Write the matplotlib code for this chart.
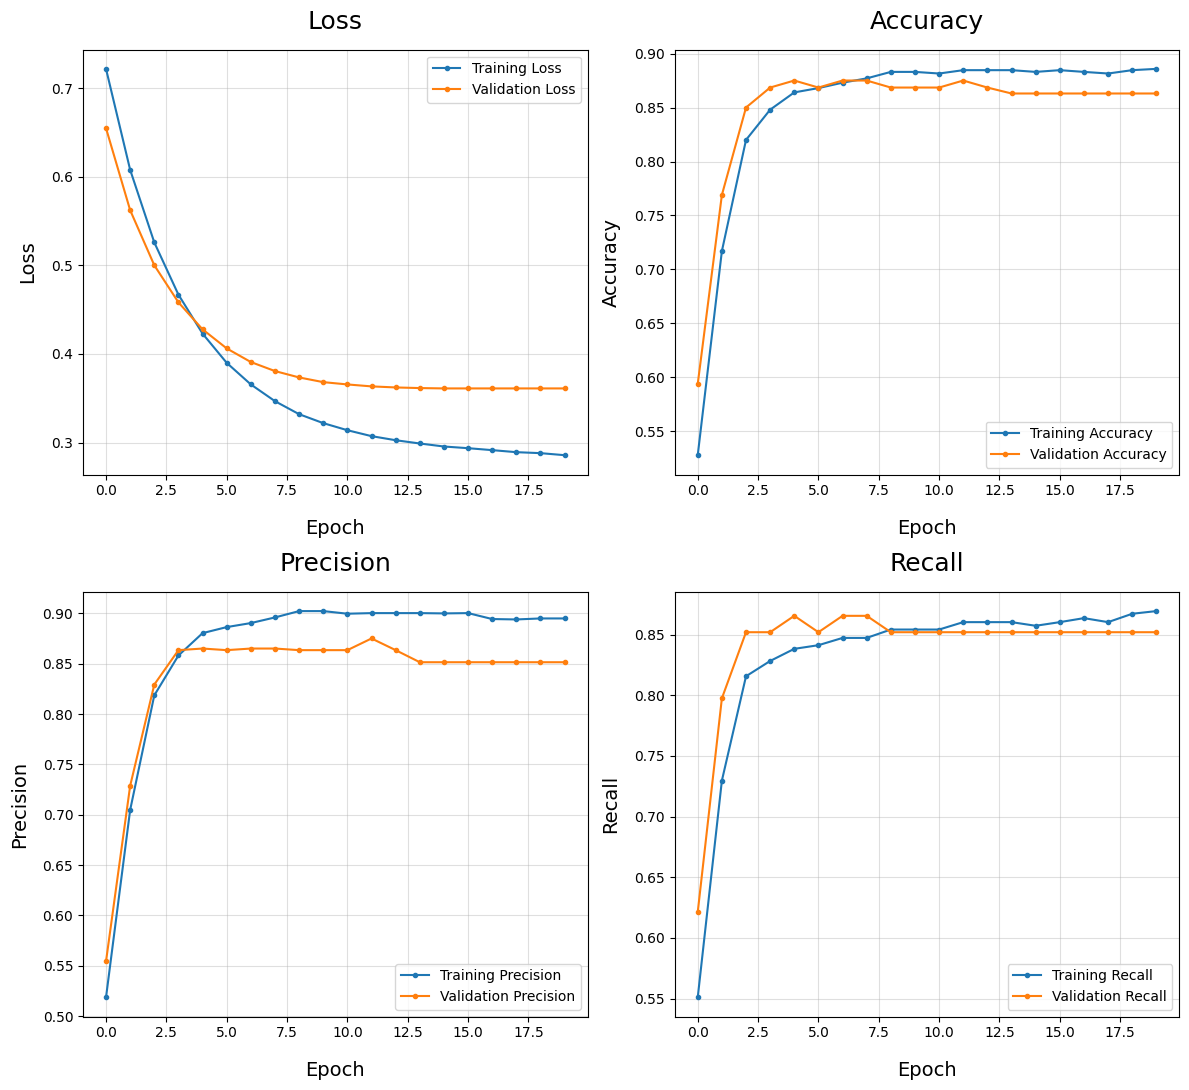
import matplotlib
matplotlib.use("Agg")
import matplotlib.pyplot as plt

epochs = list(range(20))

train_loss = [0.722, 0.608, 0.526, 0.467, 0.423, 0.390, 0.3656, 0.3467, 0.332, 0.3219,
              0.3139, 0.3072, 0.3026, 0.2989, 0.2955, 0.2936, 0.2914, 0.2891, 0.288, 0.2857]
val_loss = [0.655, 0.5624, 0.5002, 0.4583, 0.4278, 0.4063, 0.3909, 0.3807, 0.3735, 0.3682,
            0.3656, 0.3634, 0.3622, 0.3615, 0.3611, 0.3611, 0.3611, 0.3611, 0.3611, 0.3611]

train_acc = [0.528, 0.717, 0.820, 0.848, 0.864, 0.868, 0.873, 0.877, 0.883, 0.883,
             0.8815, 0.8846, 0.8846, 0.8846, 0.883, 0.8846, 0.883, 0.8815, 0.8846, 0.8858]
val_acc = [0.594, 0.769, 0.850, 0.8685, 0.875, 0.8685, 0.875, 0.875, 0.8685, 0.8685,
           0.8685, 0.875, 0.8685, 0.863, 0.863, 0.863, 0.863, 0.863, 0.863, 0.863]

train_prec = [0.5185, 0.7047, 0.8186, 0.8582, 0.8804, 0.8864, 0.8904, 0.896, 0.9023, 0.9023,
              0.8997, 0.9003, 0.9003, 0.9003, 0.9000, 0.9003, 0.8944, 0.894, 0.895, 0.895]
val_prec = [0.5543, 0.7287, 0.8293, 0.8635, 0.8651, 0.8635, 0.8651, 0.8651, 0.8635, 0.8635,
            0.8635, 0.8751, 0.8635, 0.8515, 0.8515, 0.8515, 0.8515, 0.8515, 0.8515, 0.8515]

train_rec = [0.551, 0.7296, 0.8156, 0.8282, 0.8382, 0.8412, 0.8472, 0.8472, 0.8541, 0.8541,
             0.8541, 0.8602, 0.8602, 0.8602, 0.8572, 0.8602, 0.8635, 0.8602, 0.8671, 0.8693]
val_rec = [0.6213, 0.7974, 0.8519, 0.8519, 0.8654, 0.8519, 0.8654, 0.8654, 0.8519, 0.8519,
           0.8519, 0.8519, 0.8519, 0.8519, 0.8519, 0.8519, 0.8519, 0.8519, 0.8519, 0.8519]

panels = [
    ("Loss", train_loss, val_loss, "upper right"),
    ("Accuracy", train_acc, val_acc, "lower right"),
    ("Precision", train_prec, val_prec, "lower right"),
    ("Recall", train_rec, val_rec, "lower right"),
]

fig, axes = plt.subplots(2, 2, figsize=(11.89, 10.9), dpi=100)
for ax, (name, tr, va, loc) in zip(axes.flat, panels):
    ax.plot(epochs, tr, marker="o", markersize=3, label=f"Training {name}")
    ax.plot(epochs, va, marker="o", markersize=3, label=f"Validation {name}")
    ax.set_title(name, fontsize=18, pad=15)
    ax.set_xlabel("Epoch", fontsize=14, labelpad=15)
    ax.set_ylabel(name, fontsize=14, labelpad=10)
    ax.grid(True, alpha=0.4)
    ax.legend(loc=loc)

fig.tight_layout(pad=0.7, h_pad=1.0, w_pad=1.0)
fig.savefig("out.png", dpi=100)
